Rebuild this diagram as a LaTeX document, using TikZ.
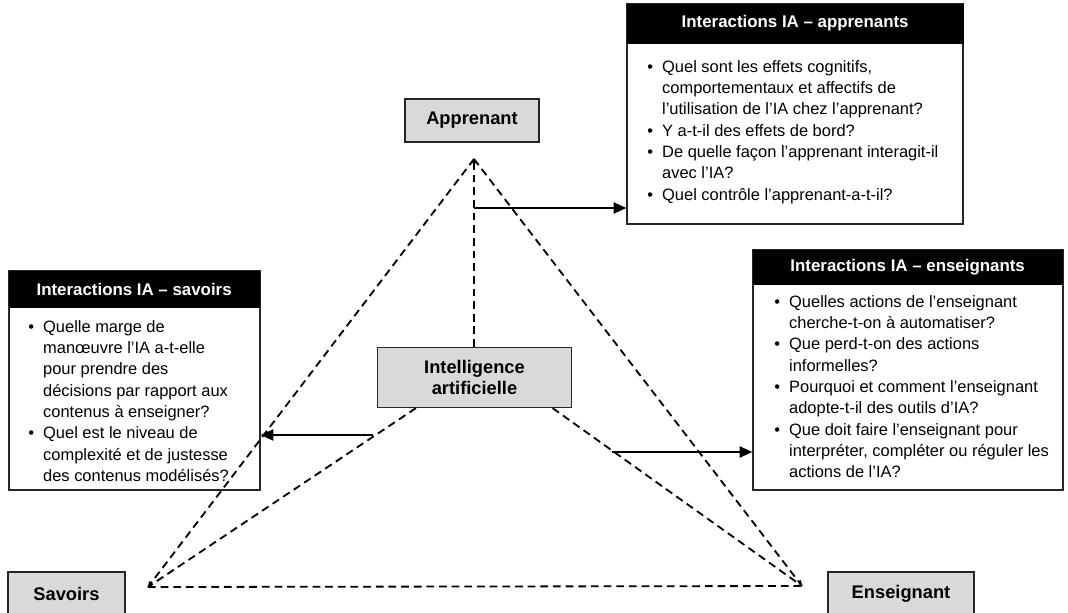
\documentclass[tikz,border=0pt]{standalone}
\usepackage{fontspec}
\setmainfont{Liberation Sans}
\usetikzlibrary{arrows.meta,positioning,calc}

\newcommand{\qb}{\textbullet}

\begin{document}
\begin{tikzpicture}[x=0.025cm, y=-0.025cm,
  vertex/.style={draw=black!85, line width=0.9pt, fill=black!15, font=\fontsize{13}{15}\selectfont\bfseries, align=center, inner sep=0pt},
  frame/.style={draw=black!85, line width=0.9pt, fill=white, inner sep=0pt},
  hdr/.style={fill=black, text=white, font=\fontsize{12}{14}\selectfont\bfseries, inner sep=0pt},
  qtext/.style={anchor=base west, inner sep=0pt, font=\fontsize{11.7}{15.2}\selectfont},
  link/.style={line width=1.3pt, dash pattern=on 5.5pt off 3.5pt},
  linktip/.style={-{Straight Barb[length=2.5pt,width=5pt]}},
  arr/.style={-{Triangle[length=9pt,width=8pt]}, line width=0.8pt}]

\useasboundingbox (0,0) rectangle (1068,613);

% 1. Vertices of the triangle
\node[vertex, minimum width=3.35cm, minimum height=1.075cm] (apprenant) at (472,120.5) {Apprenant};
\node[vertex, minimum width=2.925cm, minimum height=1.075cm] (savoirs) at (66.5,593.5) {Savoirs};
\node[vertex, minimum width=3.65cm, minimum height=1.075cm] (enseignant) at (901,593.5) {Enseignant};
\node[vertex, minimum width=4.85cm, minimum height=1.5cm] (ia) at (474.5,377.5) {Intelligence\\artificielle};

\coordinate (apex) at (474,159);
\coordinate (bl) at (148,587);
\coordinate (br) at (802,586);

% 2. Question boxes (frame + black header)
\node[frame, minimum width=8.4cm, minimum height=5.5cm] (appbox) at (795,114) {};
\node[hdr, minimum width=8.425cm, minimum height=1cm, anchor=north west] (apphdr) at (appbox.north west) {Interactions IA -- apprenants};

\node[frame, minimum width=6.275cm, minimum height=5.475cm] (savbox) at (134.5,380.5) {};
\node[hdr, minimum width=6.275cm, minimum height=0.925cm, anchor=north west] (savhdr) at (savbox.north west) {Interactions IA -- savoirs};

\node[frame, minimum width=7.75cm, minimum height=6cm] (ensbox) at (908,370) {};
\node[hdr, minimum width=7.75cm, minimum height=0.875cm, anchor=north west] (enshdr) at (ensbox.north west) {Interactions IA -- enseignants};

% 3. Questions
\node[qtext] (apptext) at (647,72) {\begin{tabular}[t]{@{}l@{\hspace{6.5pt}}l@{}}
\qb & Quel sont les effets cognitifs,\\
    & comportementaux et affectifs de\\
    & l’utilisation de l’IA chez l’apprenant?\\
\qb & Y a-t-il des effets de bord?\\
\qb & De quelle façon l’apprenant interagit-il\\
    & avec l’IA?\\
\qb & Quel contrôle l’apprenant-a-t-il?
\end{tabular}};

\node[qtext] (savtext) at (28,332) {\begin{tabular}[t]{@{}l@{\hspace{6.5pt}}l@{}}
\qb & Quelle marge de\\
    & manœuvre l’IA a-t-elle\\
    & pour prendre des\\
    & décisions par rapport aux\\
    & contenus à enseigner?\\
\qb & Quel est le niveau de\\
    & complexité et de justesse\\
    & des contenus modélisés?
\end{tabular}};

\node[qtext] (enstext) at (774,307) {\begin{tabular}[t]{@{}l@{\hspace{6.5pt}}l@{}}
\qb & Quelles actions de l’enseignant\\
    & cherche-t-on à automatiser?\\
\qb & Que perd-t-on des actions\\
    & informelles?\\
\qb & Pourquoi et comment l’enseignant\\
    & adopte-t-il des outils d’IA?\\
\qb & Que doit faire l’enseignant pour\\
    & interpréter, compléter ou réguler les\\
    & actions de l’IA?
\end{tabular}};

% 4. Dashed triangle
\draw[link] (apex) -- (bl);
\draw[link] (apex) -- (br);
\draw[link] (bl) -- (br);
\draw[link, linktip] (ia.north -| apex) -- (apex);
\draw[link, linktip] ($(ia.south west)!0.2!(ia.south east)$) -- (bl);
\draw[link, linktip] ($(ia.south west)!0.9!(ia.south east)$) -- (br);

% 5. Arrows to the question boxes
\coordinate (fromapp) at (474,208);
\coordinate (fromsav) at (373,435);
\coordinate (fromens) at (612,452);
\draw[arr] (fromapp) -- (fromapp -| appbox.west);
\draw[arr] (fromsav) -- (fromsav -| savbox.east);
\draw[arr] (fromens) -- (fromens -| ensbox.west);

\end{tikzpicture}
\end{document}
